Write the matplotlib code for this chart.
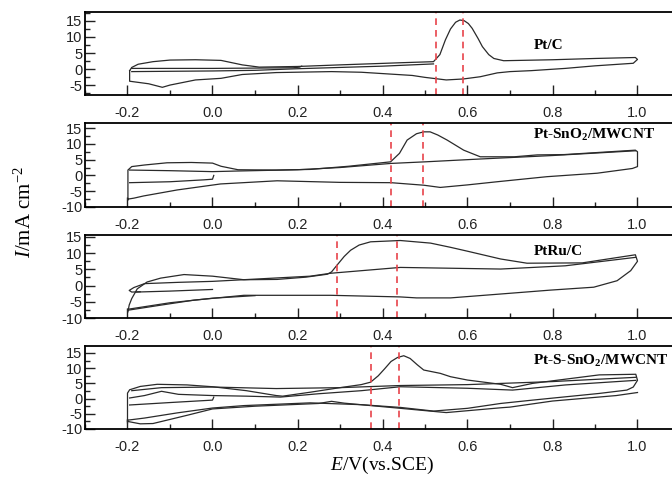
import numpy as np
import matplotlib
matplotlib.use("Agg")
import matplotlib.pyplot as plt
from matplotlib.ticker import MultipleLocator

plt.rcParams['font.family'] = ['Liberation Sans', 'DejaVu Sans']
plt.rcParams['axes.unicode_minus'] = False
plt.rcParams['mathtext.fontset'] = 'custom'
plt.rcParams['mathtext.rm'] = 'Liberation Serif'
plt.rcParams['mathtext.it'] = 'Liberation Serif:italic'
plt.rcParams['mathtext.bf'] = 'Liberation Serif:bold'

# ---- Pt/C ----
ptc_loop_E = [-0.195, -0.19, -0.175, -0.14, -0.1, -0.04, 0.02, 0.045, 0.07, 0.11, 0.2, 0.3, 0.45, 0.52,
              0.535, 0.548, 0.56, 0.572, 0.582, 0.592, 0.602, 0.611, 0.625, 0.635, 0.65, 0.662, 0.685,
              0.8, 0.9, 0.995,
              1.0, 0.99, 0.9, 0.83, 0.75, 0.7, 0.67, 0.63, 0.59, 0.55, 0.5, 0.47, 0.35, 0.28, 0.15,
              0.07, 0.02, -0.04, -0.1, -0.118, -0.15, -0.195, -0.195]
ptc_loop_I = [-0.5, 0.5, 1.5, 2.3, 2.8, 2.9, 2.7, 2.0, 1.3, 0.6, 0.8, 1.3, 2.0, 2.3,
              4.5, 9.1, 12.5, 14.6, 15.3, 15.1, 14.2, 12.7, 9.5, 7.0, 4.5, 3.3, 2.6,
              2.9, 3.3, 3.6,
              3.0, 1.8, 1.0, 0.2, -0.5, -0.8, -1.2, -2.4, -3.1, -3.4, -2.6, -2.0, -1.0, -0.8, -1.1,
              -1.7, -2.9, -3.4, -5.0, -5.7, -4.6, -3.8, -0.5]
ptc_inner1_E = [-0.19, -0.1, 0.0, 0.1, 0.19, 0.205, 0.21]
ptc_inner1_I = [0.2, 0.2, 0.2, 0.3, 0.4, 0.6, 0.9]
ptc_inner2_E = [-0.19, -0.1, 0.0, 0.1, 0.2, 0.3, 0.4, 0.52]
ptc_inner2_I = [-0.8, -0.7, -0.6, -0.4, 0.1, 0.5, 0.9, 1.6]
ptc_marks = [0.525, 0.59]

# ---- Pt-SnO2/MWCNT ----
sno_loop_E = [-0.199, -0.199, -0.19, -0.16, -0.107, -0.05, 0.0, 0.02, 0.06, 0.15, 0.23, 0.32, 0.419,
              0.44, 0.458, 0.48, 0.497, 0.512, 0.53, 0.552, 0.591, 0.63, 0.71, 0.764, 0.827, 0.9, 0.995,
              1.0, 1.0, 0.988, 0.905, 0.787, 0.67, 0.6, 0.536, 0.497, 0.42, 0.3, 0.152, 0.019,
              -0.083, -0.162, -0.185, -0.199]
sno_loop_I = [-7.8, 1.7, 2.8, 3.3, 4.0, 4.1, 3.9, 2.9, 1.8, 1.7, 1.9, 2.9, 4.3,
              7.0, 11.2, 13.2, 13.8, 13.8, 12.8, 11.2, 8.0, 5.9, 5.9, 6.5, 6.6, 7.2, 8.0,
              7.5, 2.8, 2.2, 0.7, -0.4, -2.0, -3.0, -3.8, -3.1, -2.3, -2.2, -1.7, -2.7,
              -4.6, -6.5, -7.2, -7.5]
sno_mid_E = [-0.195, -0.1, 0.0, 0.06, 0.2, 0.3, 0.42, 0.5, 0.63, 0.8, 0.995]
sno_mid_I = [1.7, 1.5, 1.2, 1.4, 1.8, 2.5, 3.8, 4.3, 5.2, 6.3, 7.8]
sno_start_E = [-0.195, -0.1, -0.02, 0.0, 0.003]
sno_start_I = [-2.3, -2.0, -1.4, -1.2, 0.0]
sno_marks = [0.419, 0.496]

# ---- PtRu/C ----
ptru_loop_E = [-0.199, -0.196, -0.19, -0.177, -0.154, -0.122, -0.067, 0.0, 0.074, 0.152, 0.22, 0.27,
               0.28, 0.293, 0.31, 0.325, 0.345, 0.372, 0.442, 0.513, 0.56, 0.6, 0.678, 0.74, 0.87, 0.995,
               1.0, 0.984, 0.952, 0.897, 0.795, 0.678, 0.56, 0.48, 0.442, 0.278, 0.074, -0.044,
               -0.12, -0.199]
ptru_loop_I = [-8.1, -6.0, -4.0, -1.0, 1.1, 2.3, 3.4, 2.9, 1.8, 1.9, 2.6, 3.5,
               4.2, 6.3, 9.0, 10.9, 12.5, 13.5, 13.9, 13.1, 11.8, 10.6, 8.2, 6.9, 7.0, 9.5,
               7.5, 4.6, 1.5, -0.5, -1.4, -2.6, -3.8, -3.8, -3.5, -3.0, -3.0, -4.5,
               -6.0, -7.6]
ptru_mid_E = [-0.17, -0.19, -0.196, -0.185, -0.16, -0.08, 0.0, 0.23, 0.278, 0.442, 0.678, 0.83, 0.995]
ptru_mid_I = [-1.9, -2.0, -1.5, -0.6, 0.6, 1.0, 1.3, 2.9, 3.8, 5.6, 5.1, 6.1, 8.7]
ptru_low2_E = [-0.199, -0.1, 0.0, 0.1]
ptru_low2_I = [-7.3, -5.3, -3.9, -3.1]
ptru_start_E = [-0.18, -0.1, 0.0]
ptru_start_I = [-2.0, -1.7, -1.2]
ptru_marks = [0.292, 0.433]

# ---- Pt-S-SnO2/MWCNT ----
pss_loop_E = [-0.2, -0.2, -0.195, -0.17, -0.13, -0.06, 0.0, 0.08, 0.15, 0.165, 0.23, 0.3, 0.35, 0.372,
              0.39, 0.405, 0.42, 0.435, 0.45, 0.465, 0.482, 0.497, 0.536, 0.56, 0.6, 0.678, 0.706, 0.753,
              0.831, 0.91, 0.996, 1.0, 0.99, 0.975, 0.91, 0.753, 0.678, 0.6, 0.52, 0.442, 0.35, 0.23,
              0.074, 0.0, -0.083, -0.16, -0.2]
pss_loop_I = [-8.0, 1.8, 2.9, 4.0, 4.7, 4.5, 3.9, 2.6, 1.0, 0.8, 2.1, 3.6, 4.6, 5.4,
              7.5, 9.8, 12.2, 13.5, 14.1, 13.2, 11.1, 9.4, 8.3, 7.2, 6.1, 4.7, 3.6, 5.0,
              6.4, 7.8, 8.0, 6.0, 3.8, 2.8, 1.7, -0.5, -1.6, -3.2, -4.1, -2.9, -2.0, -1.4,
              -2.3, -3.1, -4.7, -6.4, -7.1]
pss_cyc2_E = [-0.2, -0.17, -0.14, -0.06, 0.0, 0.1, 0.25, 0.28, 0.31, 0.45, 0.55, 0.68, 0.7, 0.8, 0.95, 1.0]
pss_cyc2_I = [-7.5, -8.3, -8.2, -5.5, -3.4, -2.5, -1.6, -0.9, -1.5, -3.3, -4.6, -3.0, -2.8, -0.8, 1.0, 2.0]
pss_wavy_E = [-0.195, -0.16, -0.12, -0.08, 0.0, 0.08, 0.16, 0.25, 0.35, 0.442, 0.6, 0.706, 0.831, 0.996]
pss_wavy_I = [0.2, 1.0, 2.4, 1.4, 1.0, 0.8, 0.5, 1.6, 2.6, 3.9, 3.4, 2.8, 4.5, 6.0]
pss_upper2_E = [-0.19, -0.12, 0.0, 0.15, 0.3, 0.442, 0.6, 0.8, 0.996]
pss_upper2_I = [2.6, 3.6, 3.8, 3.3, 3.6, 4.3, 4.6, 5.6, 7.0]
pss_start_E = [-0.195, -0.1, 0.0, 0.003]
pss_start_I = [-2.1, -1.3, -0.5, 0.5]
pss_marks = [0.372, 0.44]

labels = ['Pt/C', r'Pt-SnO$_{\mathbf{2}}$/MWCNT', 'PtRu/C', r'Pt-S-SnO$_{\mathbf{2}}$/MWCNT']
label_y = [7.5, 12.8, 10.4, 12.4]

panels = [
    ([(ptc_loop_E, ptc_loop_I), (ptc_inner1_E, ptc_inner1_I), (ptc_inner2_E, ptc_inner2_I)],
     ptc_marks, (-8.1, 17.8), (12, 95)),
    ([(sno_loop_E, sno_loop_I), (sno_mid_E, sno_mid_I), (sno_start_E, sno_start_I)],
     sno_marks, (-10, 16.6), (123, 207)),
    ([(ptru_loop_E, ptru_loop_I), (ptru_mid_E, ptru_mid_I), (ptru_low2_E, ptru_low2_I),
      (ptru_start_E, ptru_start_I)],
     ptru_marks, (-10, 15.6), (235, 318)),
    ([(pss_loop_E, pss_loop_I), (pss_cyc2_E, pss_cyc2_I), (pss_wavy_E, pss_wavy_I),
      (pss_upper2_E, pss_upper2_I), (pss_start_E, pss_start_I)],
     pss_marks, (-10, 17.3), (346, 429)),
]

W, H = 672, 480
fig = plt.figure(figsize=(W / 100, H / 100), dpi=100)

for k, (curves, marks, ylim, (top, bot)) in enumerate(panels):
    ax = fig.add_axes([85 / W, 1 - bot / H, 595 / W, (bot - top) / H])
    for E, I in curves:
        ax.plot(E, I, color='#2a2a2a', lw=0.9)
    for m in marks:
        ax.axvline(m, color='#e8434a', lw=1.2, ls=(0, (4, 3)))
    ax.set_xlim(-0.3, 1.1)
    ax.set_ylim(*ylim)
    ax.xaxis.set_major_locator(MultipleLocator(0.2))
    ax.xaxis.set_minor_locator(MultipleLocator(0.1))
    ax.yaxis.set_major_locator(MultipleLocator(5))
    ax.yaxis.set_minor_locator(MultipleLocator(2.5))
    ax.xaxis.set_major_formatter(lambda v, p: f'{v:.1f}')
    ax.tick_params(which='both', direction='in', top=False, right=False, width=1.0,
                   labelsize=10.5, colors='#222')
    ax.tick_params(which='major', length=7)
    ax.tick_params(which='minor', length=3.5)
    ax.tick_params(axis='x', pad=8)
    ax.tick_params(axis='y', pad=2)
    for s in ax.spines.values():
        s.set_linewidth(1.3)
    ax.text(0.755, label_y[k], labels[k], fontsize=11, fontweight='bold',
            family='Liberation Serif', va='center', ha='left')

fig.text(25 / W, 1 - 212 / H, r'$\mathit{I}$/mA cm$^{-2}$', rotation=90,
         fontsize=15, family='Liberation Serif', ha='center', va='center')
fig.text(382 / W, 1 - 465 / H, r'$\mathit{E}$/V(vs.SCE)', fontsize=14,
         family='Liberation Serif', ha='center', va='center')

fig.savefig('out.png', dpi=100)
